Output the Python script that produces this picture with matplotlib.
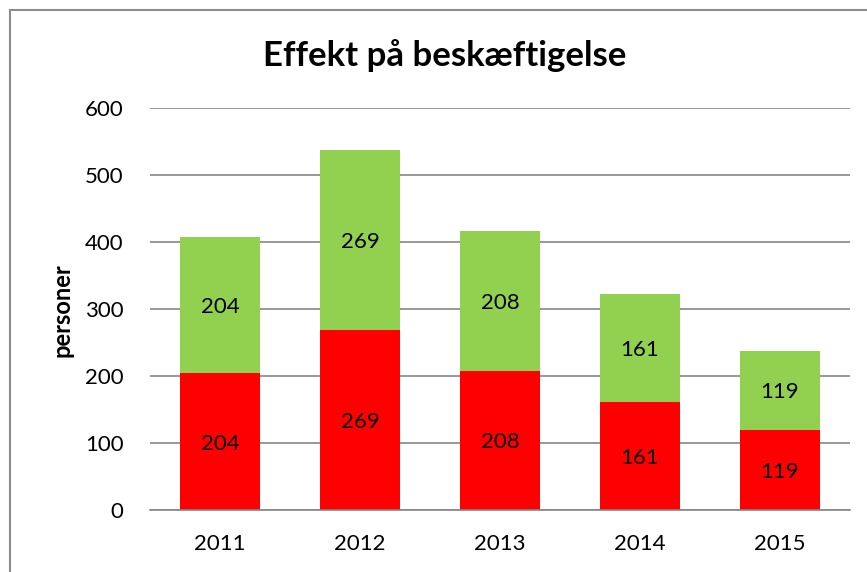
import numpy as np
import matplotlib.pyplot as plt
from matplotlib.patches import Rectangle

years = ["2011", "2012", "2013", "2014", "2015"]
red_vals = [204, 269, 208, 161, 119]
green_vals = [204, 269, 208, 161, 119]
yticks = [0, 100, 200, 300, 400, 500, 600]

plt.rcParams['font.family'] = ['Lato', 'DejaVu Sans']

fig = plt.figure(figsize=(8.67, 5.72), dpi=100)
# chart border (only left/top visible in the crop)
fig.patches.append(Rectangle((10 / 867, -0.1), 2.0, 1.1 - 10 / 572,
                             transform=fig.transFigure, fill=False,
                             edgecolor='#8c8c8c', lw=1.5))

ax = fig.add_axes([150 / 867, 1 - 510 / 572, 700 / 867, 402 / 572])
x = np.arange(len(years))
w = 0.57
ax.bar(x, red_vals, w, color='#ff0000', zorder=3)
ax.bar(x, green_vals, w, bottom=red_vals, color='#92d050', zorder=3)

for i in range(len(years)):
    ax.text(x[i], red_vals[i] / 2, str(red_vals[i]), ha='center',
            va='center_baseline', fontsize=16, zorder=4)
    ax.text(x[i], red_vals[i] + green_vals[i] / 2, str(green_vals[i]),
            ha='center', va='center_baseline', fontsize=16, zorder=4)

ax.set_xlim(-0.5, len(years) - 0.5)
ax.set_ylim(0, 600)
ax.set_yticks(yticks)
ax.set_xticks(x)
ax.set_xticklabels(years)
ax.tick_params(length=0, labelsize=16, pad=17)
ax.tick_params(axis='y', pad=19)
ax.grid(axis='y', color='#868686', lw=1.2, zorder=0)
for s in ['top', 'right', 'left']:
    ax.spines[s].set_visible(False)
ax.spines['bottom'].set_color('#868686')
ax.spines['bottom'].set_linewidth(1.2)
ax.spines['bottom'].set_zorder(5)

fig.text(62 / 867, 1 - 310 / 572, "personer", rotation=90, ha='center',
         va='center', fontsize=17, fontweight='bold')
fig.text(445 / 867, 1 - 56 / 572, "Effekt på beskæftigelse", ha='center',
         va='center', fontsize=25, fontweight='bold')

fig.savefig("out.png", dpi=100)
